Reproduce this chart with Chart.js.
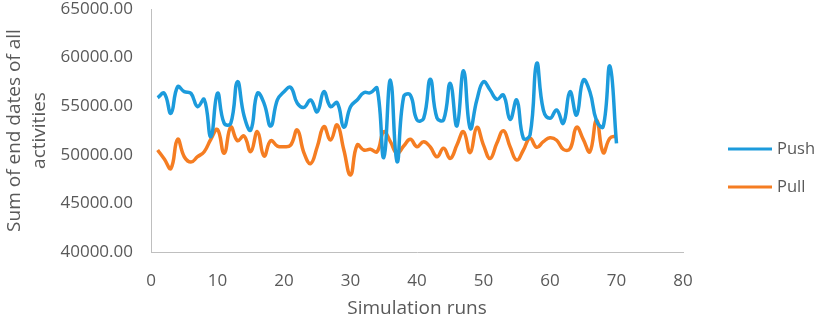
<!DOCTYPE html>
<html>
<head>
<meta charset="utf-8">
<script src="https://cdn.jsdelivr.net/npm/chart.js@4/dist/chart.umd.min.js"></script>
<style>
  html, body { margin: 0; padding: 0; background: #ffffff; }
  #wrap { width: 816px; height: 320px; }
</style>
</head>
<body>
<div id="wrap"><canvas id="c" width="816" height="320"></canvas></div>
<script>
const runs = [];
for (let i = 1; i <= 70; i++) runs.push(i);

const pushValues = [
  55870, 56330, 54270, 57000, 56500, 56330, 54950, 55700, 51860, 56330,
  53240, 53240, 57520, 54000, 52550, 56330, 55300, 52960, 55640, 56490,
  56940, 55300, 54880, 55640, 54430, 56490, 54950, 55360, 52830, 54950,
  55640, 56390, 56390, 56840, 49700, 57690, 49290, 55980, 56150, 53580,
  53750, 57770, 53800, 53600, 57350, 52960, 58650, 52720, 55640, 57520,
  56660, 55700, 56150, 53650, 55640, 51700, 52030, 59410, 54610, 53750,
  54610, 53240, 56490, 54090, 57690, 56490, 53500, 52890, 59130, 51180
];

const pullValues = [
  50490, 49560, 48600, 51590, 49800, 49250, 49800, 50320, 51600, 52600,
  50150, 52850, 51450, 51930, 50320, 52380, 49870, 51450, 50900, 50830,
  51000, 52550, 50200, 49100, 50830, 52900, 51520, 53070, 50490, 47920,
  51000, 50490, 50560, 50320, 52380, 51350, 50150, 50900, 51590, 50830,
  51350, 50800, 49800, 50670, 49630, 51000, 52380, 50220, 52830, 51000,
  49630, 51180, 52480, 50830, 49460, 50490, 51700, 50770, 51350, 51760,
  51500, 50560, 50600, 52830, 51590, 50320, 53580, 50220, 51700, 51930
];

const seriesNames = ["Push", "Pull"];
const seriesColors = ["#1C9BDC", "#F57D22"];

const xTickMin = 0, xTickMax = 80, xTickStep = 10;
const yTickMin = 40000, yTickMax = 65000, yTickStep = 5000;

const xTitle = "Simulation runs";
const yTitle = ["Sum of end dates of all", "activities"];

const textColor = "#595959";
const fontFamily = "'Open Sans', 'Liberation Sans', sans-serif";

function toPoints(vals) {
  return vals.map((v, i) => ({ x: runs[i], y: v }));
}

const legendPlugin = {
  id: 'sideLegend',
  afterDraw(chart) {
    const ctx = chart.ctx;
    const ds = chart.data.datasets;
    ctx.save();
    ds.forEach((d, i) => {
      const y = 149 + i * 38;
      ctx.strokeStyle = d.borderColor;
      ctx.lineWidth = 3;
      ctx.beginPath();
      ctx.moveTo(728, y);
      ctx.lineTo(772, y);
      ctx.stroke();
      ctx.fillStyle = textColor;
      ctx.font = "16.5px " + fontFamily;
      ctx.textAlign = "left";
      ctx.textBaseline = "middle";
      ctx.fillText(d.label, 777, y);
    });
    ctx.restore();
  }
};

new Chart(document.getElementById('c'), {
  type: 'line',
  data: {
    datasets: [
      { label: seriesNames[0], data: toPoints(pushValues), borderColor: seriesColors[0], backgroundColor: seriesColors[0], borderWidth: 3.5, pointRadius: 0, tension: 0.45, fill: false },
      { label: seriesNames[1], data: toPoints(pullValues), borderColor: seriesColors[1], backgroundColor: seriesColors[1], borderWidth: 3.5, pointRadius: 0, tension: 0.45, fill: false }
    ]
  },
  options: {
    responsive: false,
    animation: false,
    devicePixelRatio: 1,
    layout: { padding: { top: 9, right: 133, left: 0, bottom: 0 } },
    plugins: {
      legend: { display: false },
      tooltip: { enabled: false }
    },
    scales: {
      x: {
        type: 'linear',
        min: xTickMin, max: xTickMax,
        ticks: { stepSize: xTickStep, color: textColor, font: { family: fontFamily, size: 17 }, padding: 19, maxRotation: 0 },
        grid: { display: false, drawTicks: false },
        border: { display: true, color: '#BFBFBF', width: 1 },
        title: { display: true, text: xTitle, color: textColor, font: { family: fontFamily, size: 19 }, padding: { top: 7, bottom: 0 } },
        afterFit(scale) { scale.height = 68; scale.paddingLeft = 0; scale.paddingRight = 0; }
      },
      y: {
        min: yTickMin, max: yTickMax,
        ticks: { stepSize: yTickStep, color: textColor, font: { family: fontFamily, size: 17 }, padding: 18, callback: v => Number(v).toFixed(2) },
        grid: { display: false, drawTicks: false },
        border: { display: true, color: '#BFBFBF', width: 1 },
        title: { display: true, text: yTitle, color: textColor, font: { family: fontFamily, size: 19, lineHeight: 1.32 }, padding: { top: 2, bottom: 0 } },
        afterFit(scale) { scale.width = 151; scale.paddingTop = 0; scale.paddingBottom = 0; }
      }
    }
  },
  plugins: [legendPlugin]
});
</script>
</body>
</html>
